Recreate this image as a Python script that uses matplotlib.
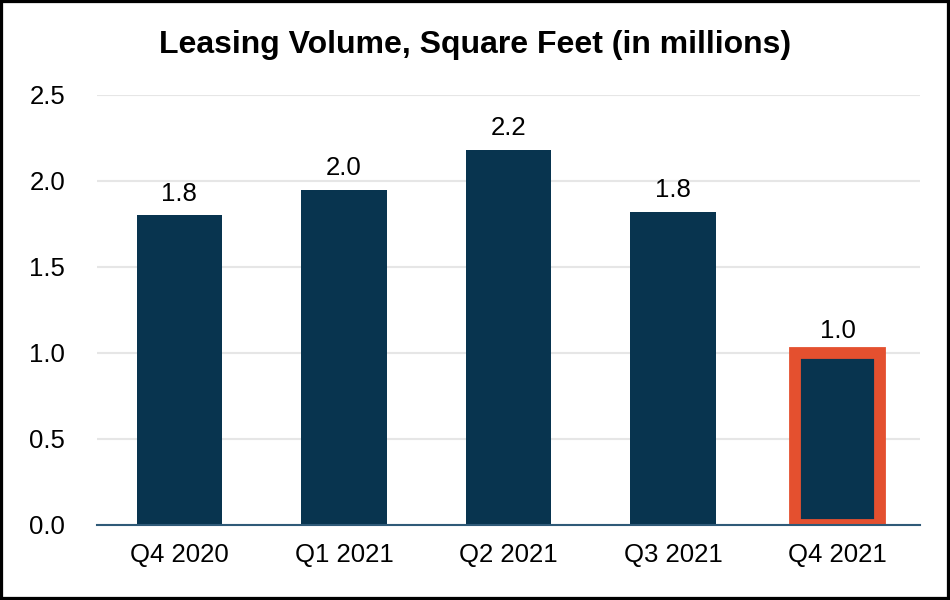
import matplotlib
matplotlib.use("Agg")
import matplotlib.pyplot as plt
from matplotlib.patches import Rectangle

categories = ["Q4 2020", "Q1 2021", "Q2 2021", "Q3 2021", "Q4 2021"]
values = [1.80, 1.95, 2.18, 1.82, 1.00]
labels = ["1.8", "2.0", "2.2", "1.8", "1.0"]
yticks = [0.0, 0.5, 1.0, 1.5, 2.0, 2.5]
highlight_index = 4

navy = "#08344f"
orange = "#e4502f"

plt.rcParams['font.family'] = ['Liberation Sans', 'DejaVu Sans']

fig = plt.figure(figsize=(9.5, 6), dpi=100)
ax = fig.add_axes([97/950, 75/600, 823/950, 430/600])

x = list(range(len(categories)))
bars = ax.bar(x, values, width=0.52, color=navy, zorder=3)
bars[highlight_index].set_edgecolor(orange)
bars[highlight_index].set_linewidth(8.5)

for xi, v, lab in zip(x, values, labels):
    ax.annotate(lab, (xi, v), xytext=(0, 7), textcoords="offset points",
                ha="center", va="bottom", fontsize=18.5, color="black", zorder=4)

ax.set_xlim(-0.5, len(categories) - 0.5)
ax.set_ylim(0, 2.5)
ax.set_yticks(yticks)
ax.set_yticklabels([f"{t:.1f}" for t in yticks])
ax.set_xticks(x)
ax.set_xticklabels(categories)
ax.tick_params(axis="y", length=0, pad=23, labelsize=18.5)
ax.tick_params(axis="x", length=0, pad=13, labelsize=18.5)
ax.grid(axis="y", color="#e6e6e6", linewidth=1.5, zorder=0)
ax.set_axisbelow(True)
for s in ["top", "right", "left"]:
    ax.spines[s].set_visible(False)
ax.spines["bottom"].set_color("#2f5a78")
ax.spines["bottom"].set_linewidth(1.5)
ax.spines["bottom"].set_zorder(5)

fig.text(0.5, 1 - 45/600, "Leasing Volume, Square Feet (in millions)",
         ha="center", va="center", fontsize=23, fontweight="bold")

fig.patches.append(Rectangle((0, 0), 1, 1, transform=fig.transFigure,
                             fill=False, edgecolor="black", linewidth=4.5))

fig.savefig("out.png", dpi=100)
